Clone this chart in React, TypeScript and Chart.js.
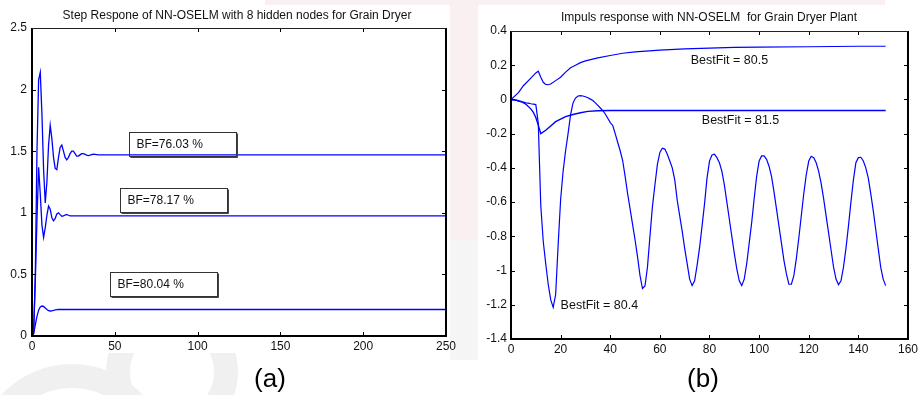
import React, { useEffect, useRef } from "react";
import { Chart, registerables } from "chart.js";

Chart.register(...registerables);

const FONT = "'Liberation Sans', Arial, Helvetica, sans-serif";
const BLUE = "#0000ff";

// ---------------- (a) Step response ----------------
const stepTime = [
  0, 1, 2, 3, 4, 5, 6, 7, 8, 9, 10, 11, 12, 13, 14, 15, 16, 17, 18, 19, 20,
  21, 22, 23, 24, 25, 26, 27, 28, 29, 30, 31, 32, 33, 34, 35, 36, 37, 38, 39, 40, 250,
];
const stepBF7603 = [
  0, 0.02, 0.5, 1.5, 2.08, 2.14, 1.8, 1.35, 1.08, 1.25, 1.55, 1.71, 1.6, 1.45, 1.36, 1.35,
  1.45, 1.53, 1.55, 1.5, 1.45, 1.43, 1.45, 1.48, 1.5, 1.5, 1.48, 1.46, 1.46, 1.47, 1.48,
  1.48, 1.475, 1.468, 1.465, 1.468, 1.472, 1.475, 1.474, 1.472, 1.47, 1.47,
];
const stepBF7817 = [
  0, 0.05, 0.45, 0.95, 1.37, 1.15, 0.9, 0.8, 0.88, 0.98, 1.055, 1.03, 0.96, 0.935, 0.955,
  0.99, 1.0, 0.985, 0.972, 0.975, 0.982, 0.986, 0.98, 0.975, 0.975, 0.975, 0.975, 0.975,
  0.975, 0.975, 0.975, 0.975, 0.975, 0.975, 0.975, 0.975, 0.975, 0.975, 0.975, 0.975, 0.975, 0.975,
];
const stepBF8004 = [
  0, 0.02, 0.09, 0.16, 0.21, 0.235, 0.243, 0.24, 0.228, 0.215, 0.205, 0.203, 0.204, 0.207,
  0.212, 0.214, 0.215, 0.215, 0.215, 0.215, 0.215, 0.215, 0.215, 0.215, 0.215, 0.215, 0.215,
  0.215, 0.215, 0.215, 0.215, 0.215, 0.215, 0.215, 0.215, 0.215, 0.215, 0.215, 0.215, 0.215, 0.215, 0.215,
];
const stepXTicks = [0, 50, 100, 150, 200, 250];
const stepXTickLabels = ["0", "50", "100", "150", "200", "250"];
const stepYTicks = [0, 0.5, 1, 1.5, 2, 2.5];
const stepYTickLabels = ["0", "0.5", "1", "1.5", "2", "2.5"];
const stepBoxLabels = ["BF=76.03 %", "BF=78.17 %", "BF=80.04 %"];
const stepBoxX = [58.4, 53.3, 46.9];
const stepBoxY = [1.656, 1.199, 0.522];
const stepTitle = "Step Respone of NN-OSELM with 8 hidden nodes for Grain Dryer";

// ---------------- (b) Impulse response ----------------
// sample k = 0..151
const impulseBF804 = [
  0, -0.002, -0.005, -0.01, -0.013, -0.016, -0.02, -0.022, -0.025, -0.027, -0.03,
  -0.14, -0.62, -0.83, -0.96, -1.08, -1.17, -1.215, -1.14, -0.85, -0.585,
  -0.42, -0.3, -0.2, -0.09, -0.02, 0.008, 0.02, 0.022, 0.02, 0.016,
  0.01, 0.002, -0.006, -0.02, -0.035, -0.05, -0.065, -0.085, -0.11, -0.135,
  -0.152, -0.2, -0.25, -0.3, -0.357, -0.45, -0.55, -0.64, -0.73, -0.82,
  -0.92, -1.03, -1.105, -1.09, -0.98, -0.8, -0.626, -0.5, -0.38, -0.31,
  -0.285, -0.29, -0.32, -0.36, -0.4, -0.47, -0.59, -0.68, -0.77, -0.87,
  -0.96, -1.05, -1.088, -1.06, -0.97, -0.866, -0.74, -0.61, -0.46, -0.36,
  -0.325, -0.32, -0.34, -0.37, -0.42, -0.5, -0.6, -0.7, -0.8, -0.9,
  -0.99, -1.06, -1.088, -1.05, -0.96, -0.84, -0.72, -0.58, -0.45, -0.36,
  -0.33, -0.33, -0.35, -0.39, -0.45, -0.54, -0.64, -0.74, -0.84, -0.94,
  -1.02, -1.08, -1.08, -1.03, -0.93, -0.81, -0.68, -0.55, -0.44, -0.36,
  -0.332, -0.34, -0.37, -0.42, -0.49, -0.58, -0.68, -0.78, -0.88, -0.98,
  -1.05, -1.083, -1.06, -0.98, -0.87, -0.74, -0.6, -0.47, -0.37, -0.34,
  -0.338, -0.36, -0.4, -0.46, -0.55, -0.65, -0.76, -0.87, -0.98, -1.05, -1.088,
];
const impulseBF805X = [
  0, 3, 5, 8, 10, 11, 12, 13, 14, 15, 16, 18, 20, 22, 24, 26, 28, 30, 35, 40, 45, 50, 60,
  70, 80, 90, 100, 120, 140, 151,
];
const impulseBF805 = [
  0, 0.04, 0.08, 0.125, 0.155, 0.165, 0.13, 0.1, 0.088, 0.086, 0.09, 0.11, 0.13, 0.16,
  0.185, 0.2, 0.215, 0.225, 0.243, 0.257, 0.27, 0.278, 0.288, 0.295, 0.3, 0.304, 0.306,
  0.308, 0.311, 0.311,
];
const impulseBF815X = [0, 2, 4, 6, 8, 9, 10, 11, 12, 14, 16, 18, 20, 22, 25, 28, 31, 35, 40, 151];
const impulseBF815 = [
  0, -0.003, -0.012, -0.028, -0.055, -0.075, -0.105, -0.15, -0.2, -0.18, -0.155, -0.13,
  -0.115, -0.1, -0.088, -0.078, -0.07, -0.066, -0.065, -0.065,
];
const impulseXTicks = [0, 20, 40, 60, 80, 100, 120, 140, 160];
const impulseXTickLabels = ["0", "20", "40", "60", "80", "100", "120", "140", "160"];
const impulseYTicks = [-1.4, -1.2, -1, -0.8, -0.6, -0.4, -0.2, 0, 0.2, 0.4];
const impulseYTickLabels = ["-1.4", "-1.2", "-1", "-0.8", "-0.6", "-0.4", "-0.2", "0", "0.2", "0.4"];
const impulseTextLabels = ["BestFit = 80.5", "BestFit = 81.5", "BestFit = 80.4"];
const impulseTextX = [72.4, 76.9, 20];
const impulseTextY = [0.225, -0.124, -1.205];
const impulseTitle = "Impuls response with NN-OSELM  for Grain Dryer Plant";

type FrameCfg = {
  xTicks: number[];
  yTicks: number[];
  title: string;
  titleX: number;
  titleY: number;
  caption: string;
  captionX: number;
  captionY: number;
  annotate: (ctx: CanvasRenderingContext2D, xs: any, ys: any) => void;
};

function framePlugin(cfg: FrameCfg) {
  return {
    id: "matlabFrame",
    afterDraw(chart: any) {
      const { ctx, chartArea: a, scales } = chart;
      const xs = scales.x;
      const ys = scales.y;
      ctx.save();
      ctx.strokeStyle = "#000";
      ctx.lineWidth = 1;
      ctx.beginPath();
      for (const v of cfg.xTicks) {
        const px = Math.round(xs.getPixelForValue(v)) + 0.5;
        ctx.moveTo(px, a.bottom);
        ctx.lineTo(px, a.bottom - 4);
        ctx.moveTo(px, a.top);
        ctx.lineTo(px, a.top + 4);
      }
      for (const v of cfg.yTicks) {
        const py = Math.round(ys.getPixelForValue(v)) + 0.5;
        ctx.moveTo(a.left, py);
        ctx.lineTo(a.left + 4, py);
        ctx.moveTo(a.right, py);
        ctx.lineTo(a.right - 4, py);
      }
      ctx.stroke();
      // axes box
      ctx.lineWidth = 2;
      ctx.strokeStyle = "#000";
      ctx.beginPath();
      ctx.moveTo(a.left, a.top);
      ctx.lineTo(a.left, a.bottom);
      ctx.lineTo(a.right, a.bottom);
      ctx.lineTo(a.right, a.top);
      ctx.stroke();
      ctx.lineWidth = 1;
      ctx.strokeStyle = "#222";
      ctx.beginPath();
      ctx.moveTo(a.left, Math.round(a.top) + 0.5);
      ctx.lineTo(a.right, Math.round(a.top) + 0.5);
      ctx.stroke();
      // title
      ctx.fillStyle = "#111";
      ctx.font = `12px ${FONT}`;
      ctx.textAlign = "center";
      ctx.textBaseline = "middle";
      ctx.fillText(cfg.title, cfg.titleX, cfg.titleY);
      // caption
      ctx.font = `26px ${FONT}`;
      ctx.fillStyle = "#000";
      ctx.fillText(cfg.caption, cfg.captionX, cfg.captionY);
      cfg.annotate(ctx, xs, ys);
      ctx.restore();
    },
  };
}

function baseOptions(
  xMin: number, xMax: number, xTicks: number[], xLabels: string[],
  yMin: number, yMax: number, yTicks: number[], yLabels: string[],
  padding: any, yWidth: number, xHeight: number, xPad: number, yPad: number,
) {
  return {
    animation: false,
    responsive: false,
    maintainAspectRatio: false,
    devicePixelRatio: 1,
    layout: { padding },
    plugins: { legend: { display: false }, tooltip: { enabled: false }, title: { display: false } },
    elements: { point: { radius: 0 }, line: { borderWidth: 1, tension: 0 } },
    scales: {
      x: {
        type: "linear",
        min: xMin,
        max: xMax,
        grid: { display: false, drawTicks: false },
        border: { display: false },
        afterBuildTicks: (s: any) => {
          s.ticks = xTicks.map((v) => ({ value: v }));
        },
        afterFit: (s: any) => {
          s.height = xHeight;
        },
        ticks: {
          padding: xPad,
          color: "#111",
          autoSkip: false,
          maxRotation: 0,
          font: { family: FONT, size: 12 },
          callback: (_v: any, i: number) => xLabels[i],
        },
      },
      y: {
        type: "linear",
        min: yMin,
        max: yMax,
        grid: { display: false, drawTicks: false },
        border: { display: false },
        afterBuildTicks: (s: any) => {
          s.ticks = yTicks.map((v) => ({ value: v }));
        },
        afterFit: (s: any) => {
          s.width = yWidth;
        },
        ticks: {
          padding: yPad,
          color: "#111",
          autoSkip: false,
          font: { family: FONT, size: 12 },
          callback: (_v: any, i: number) => yLabels[i],
        },
      },
    },
  };
}

function buildStep(): any {
  const pts = (ys: number[]) => ys.map((v, i) => ({ x: stepTime[i], y: v }));
  return {
    type: "line",
    data: {
      datasets: [
        { data: pts(stepBF7603), borderColor: BLUE, borderWidth: 1.3, fill: false },
        { data: pts(stepBF7817), borderColor: BLUE, borderWidth: 1.3, fill: false },
        { data: pts(stepBF8004), borderColor: BLUE, borderWidth: 1.3, fill: false },
      ],
    },
    options: baseOptions(
      0, 250, stepXTicks, stepXTickLabels, 0, 2.5, stepYTicks, stepYTickLabels,
      { top: 28, right: 14, bottom: 0, left: 0 }, 32, 59, 3, 5,
    ),
    plugins: [
      framePlugin({
        xTicks: stepXTicks,
        yTicks: stepYTicks,
        title: stepTitle,
        titleX: 237,
        titleY: 16,
        caption: "(a)",
        captionX: 270,
        captionY: 380,
        annotate: (ctx, xs, ys) => {
          ctx.font = `12px ${FONT}`;
          ctx.textAlign = "left";
          ctx.textBaseline = "middle";
          stepBoxLabels.forEach((lab, i) => {
            const l = Math.round(xs.getPixelForValue(stepBoxX[i])) + 0.5;
            const t = Math.round(ys.getPixelForValue(stepBoxY[i])) + 0.5;
            const w = 107;
            const h = 24;
            ctx.strokeStyle = "#333";
            ctx.lineWidth = 1;
            ctx.strokeRect(l, t, w, h);
            ctx.strokeStyle = "#444";
            ctx.beginPath();
            ctx.moveTo(l + w + 1, t + 1);
            ctx.lineTo(l + w + 1, t + h + 1);
            ctx.lineTo(l + 1, t + h + 1);
            ctx.stroke();
            ctx.fillStyle = "#111";
            ctx.fillText(lab, l + 7, t + h / 2 + 0.5);
          });
        },
      }),
    ],
  };
}

function buildImpulse(): any {
  return {
    type: "line",
    data: {
      datasets: [
        {
          data: impulseBF805.map((v, i) => ({ x: impulseBF805X[i], y: v })),
          borderColor: BLUE, borderWidth: 1.2, fill: false,
        },
        {
          data: impulseBF815.map((v, i) => ({ x: impulseBF815X[i], y: v })),
          borderColor: BLUE, borderWidth: 1.4, fill: false,
        },
        {
          data: impulseBF804.map((v, i) => ({ x: i, y: v })),
          borderColor: BLUE, borderWidth: 1.2, fill: false,
        },
      ],
    },
    options: baseOptions(
      0, 160, impulseXTicks, impulseXTickLabels, -1.4, 0.4, impulseYTicks, impulseYTickLabels,
      { top: 31, right: 10, bottom: 0, left: 0 }, 51, 56, 3, 4,
    ),
    plugins: [
      framePlugin({
        xTicks: impulseXTicks,
        yTicks: impulseYTicks,
        title: impulseTitle,
        titleX: 249,
        titleY: 18,
        caption: "(b)",
        captionX: 243,
        captionY: 380,
        annotate: (ctx, xs, ys) => {
          ctx.font = `12.5px ${FONT}`;
          ctx.textAlign = "left";
          ctx.textBaseline = "middle";
          ctx.fillStyle = "#111";
          impulseTextLabels.forEach((lab, i) => {
            ctx.fillText(lab, xs.getPixelForValue(impulseTextX[i]), ys.getPixelForValue(impulseTextY[i]));
          });
        },
      }),
    ],
  };
}

function Background() {
  const ref = useRef<HTMLCanvasElement>(null);
  useEffect(() => {
    const c = ref.current!;
    const ctx = c.getContext("2d")!;
    ctx.fillStyle = "#fff";
    ctx.fillRect(0, 0, 921, 395);
    // faint watermark pieces
    ctx.strokeStyle = "#f0f0f0";
    ctx.lineWidth = 24;
    ctx.beginPath();
    ctx.arc(172, 372, 54, 0, Math.PI * 2);
    ctx.stroke();
    ctx.beginPath();
    ctx.arc(72, 460, 84, 0, Math.PI * 2);
    ctx.stroke();
    ctx.fillStyle = "#f9f0f2";
    ctx.fillRect(450, 0, 28, 240);
    ctx.fillRect(265, 0, 620, 5);
    ctx.fillStyle = "#f5f5f5";
    ctx.fillRect(450, 240, 28, 120);
    // white figure areas
    ctx.fillStyle = "#fff";
    ctx.fillRect(0, 6, 450, 347);
    ctx.fillRect(478, 6, 443, 347);
  }, []);
  return <canvas ref={ref} width={921} height={395} style={{ position: "absolute", left: 0, top: 0 }} />;
}

function ChartCanvas(props: { left: number; width: number; build: () => any }) {
  const ref = useRef<HTMLCanvasElement>(null);
  useEffect(() => {
    const chart = new Chart(ref.current!, props.build());
    return () => chart.destroy();
  }, []);
  return (
    <canvas
      ref={ref}
      width={props.width}
      height={395}
      style={{ position: "absolute", left: props.left, top: 0, width: props.width, height: 395 }}
    />
  );
}

export default function App() {
  return (
    <div style={{ position: "fixed", left: 0, top: 0, width: 921, height: 395, background: "#fff", overflow: "hidden" }}>
      <Background />
      <ChartCanvas left={0} width={460} build={buildStep} />
      <ChartCanvas left={460} width={461} build={buildImpulse} />
    </div>
  );
}
